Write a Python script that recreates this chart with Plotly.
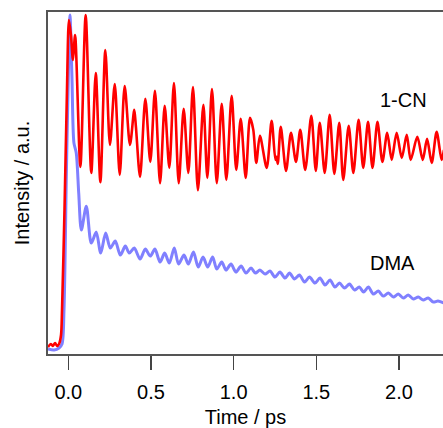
import plotly.graph_objects as go

# 1-CN (red) : time in ps, intensity in a.u.
cn_time = [-0.123, -0.105, -0.093, -0.080, -0.068, -0.056, -0.044, -0.038, -0.023, -0.008,
           0.004, 0.016, 0.028, 0.041, 0.073, 0.105, 0.139, 0.166, 0.194, 0.224,
           0.252, 0.281, 0.311, 0.341, 0.373, 0.399, 0.409, 0.434, 0.466, 0.496,
           0.524, 0.555, 0.583, 0.611, 0.639, 0.668, 0.698, 0.726, 0.754, 0.784,
           0.817, 0.841, 0.869, 0.898, 0.928, 0.956, 0.988, 1.016, 1.043, 1.073,
           1.099, 1.119, 1.137, 1.159, 1.200, 1.230, 1.253, 1.260, 1.267, 1.285,
           1.317, 1.347, 1.377, 1.403, 1.433, 1.470, 1.497, 1.521, 1.551, 1.581,
           1.609, 1.639, 1.663, 1.696, 1.724, 1.756, 1.784, 1.813, 1.840, 1.870,
           1.900, 1.929, 1.956, 1.986, 2.017, 2.047, 2.071, 2.111, 2.144, 2.170,
           2.198, 2.228, 2.258, 2.272]
cn_int = [0.003, 0.012, 0.006, 0.015, 0.006, 0.012, 0.039, 0.114, 0.414, 0.775,
          0.985, 0.940, 0.865, 0.940, 0.544, 1.000, 0.526, 0.826, 0.498, 0.895,
          0.610, 0.793, 0.520, 0.787, 0.610, 0.715, 0.664, 0.514, 0.748, 0.559,
          0.772, 0.495, 0.727, 0.541, 0.796, 0.495, 0.718, 0.526, 0.784, 0.474,
          0.730, 0.511, 0.778, 0.495, 0.733, 0.505, 0.757, 0.535, 0.688, 0.511,
          0.691, 0.655, 0.556, 0.637, 0.541, 0.682, 0.565, 0.574, 0.553, 0.664,
          0.532, 0.646, 0.559, 0.655, 0.535, 0.697, 0.532, 0.676, 0.526, 0.700,
          0.523, 0.676, 0.505, 0.667, 0.526, 0.685, 0.541, 0.679, 0.541, 0.679,
          0.559, 0.646, 0.565, 0.646, 0.571, 0.640, 0.565, 0.634, 0.565, 0.628,
          0.556, 0.649, 0.565, 0.595]

# DMA (blue)
dma_time = [-0.123, -0.086, -0.056, -0.038, -0.026, -0.012, -0.002, 0.010, 0.022, 0.034,
            0.048, 0.063, 0.079, 0.109, 0.139, 0.169, 0.196, 0.226, 0.254, 0.284,
            0.315, 0.345, 0.369, 0.399, 0.434, 0.466, 0.496, 0.524, 0.555, 0.583,
            0.611, 0.641, 0.667, 0.700, 0.726, 0.757, 0.786, 0.815, 0.843, 0.873,
            0.898, 0.928, 0.954, 0.984, 1.014, 1.045, 1.075, 1.105, 1.132, 1.159,
            1.190, 1.220, 1.250, 1.280, 1.311, 1.338, 1.368, 1.398, 1.429, 1.459,
            1.492, 1.522, 1.553, 1.583, 1.613, 1.640, 1.671, 1.701, 1.731, 1.760,
            1.786, 1.815, 1.845, 1.875, 1.905, 1.936, 1.966, 1.996, 2.026, 2.056,
            2.087, 2.117, 2.147, 2.177, 2.208, 2.236, 2.272]
dma_int = [-0.003, -0.006, 0.000, 0.012, 0.114, 0.514, 0.766, 1.000, 0.814, 0.616,
           0.586, 0.465, 0.354, 0.426, 0.315, 0.348, 0.285, 0.345, 0.300, 0.321,
           0.279, 0.306, 0.285, 0.300, 0.267, 0.297, 0.276, 0.297, 0.258, 0.285,
           0.255, 0.300, 0.252, 0.279, 0.252, 0.288, 0.243, 0.273, 0.243, 0.273,
           0.237, 0.258, 0.234, 0.252, 0.228, 0.246, 0.225, 0.240, 0.225, 0.234,
           0.222, 0.231, 0.213, 0.228, 0.210, 0.225, 0.207, 0.219, 0.198, 0.213,
           0.195, 0.210, 0.189, 0.204, 0.183, 0.195, 0.180, 0.192, 0.174, 0.183,
           0.168, 0.183, 0.162, 0.171, 0.156, 0.165, 0.153, 0.162, 0.150, 0.159,
           0.147, 0.153, 0.144, 0.150, 0.138, 0.141, 0.135]

tick_vals = [0.0, 0.5, 1.0, 1.5, 2.0]
tick_text = ["0.0", "0.5", "1.0", "1.5", "2.0"]

font_family = "Liberation Sans, Arial, sans-serif"

fig = go.Figure()
fig.add_trace(go.Scatter(x=dma_time, y=dma_int, mode="lines", name="DMA",
                         line=dict(color="#8080ff", width=3, shape="spline", smoothing=0.8),
                         hoverinfo="skip"))
fig.add_trace(go.Scatter(x=cn_time, y=cn_int, mode="lines", name="1-CN",
                         line=dict(color="#ff0000", width=2.6, shape="spline", smoothing=0.8),
                         hoverinfo="skip"))

fig.add_annotation(x=2.03, y=0.745, text="1-CN", showarrow=False,
                   font=dict(size=20, color="black", family=font_family))
fig.add_annotation(x=1.958, y=0.254, text="DMA", showarrow=False,
                   font=dict(size=20, color="black", family=font_family))

fig.update_layout(
    width=443, height=428,
    margin=dict(l=48, r=0, t=12, b=74, autoexpand=False),
    paper_bgcolor="white", plot_bgcolor="white",
    showlegend=False,
    font=dict(family=font_family, size=20, color="black"),
)
fig.update_xaxes(
    range=[-0.1228, 2.2664],
    tickvals=tick_vals, ticktext=tick_text,
    ticks="outside", ticklen=14, tickwidth=1.5, tickcolor="#444",
    ticklabelstandoff=5,
    showline=True, linecolor="#555", linewidth=2, mirror=True,
    showgrid=False, zeroline=False, automargin=False,
    tickfont=dict(size=20, color="black"),
    title=dict(text="Time / ps", font=dict(size=20), standoff=13),
)
fig.update_yaxes(
    range=[-0.018, 1.009],
    showticklabels=False, ticks="",
    showline=True, linecolor="#555", linewidth=2, mirror=False,
    showgrid=False, zeroline=False, automargin=False,
    title=dict(text="Intensity / a.u.", font=dict(size=20), standoff=11),
)

fig.write_html(
    "out.html",
    config={"displayModeBar": False, "staticPlot": True},
    post_script="document.body.style.margin='0';document.body.style.overflow='hidden';",
)
